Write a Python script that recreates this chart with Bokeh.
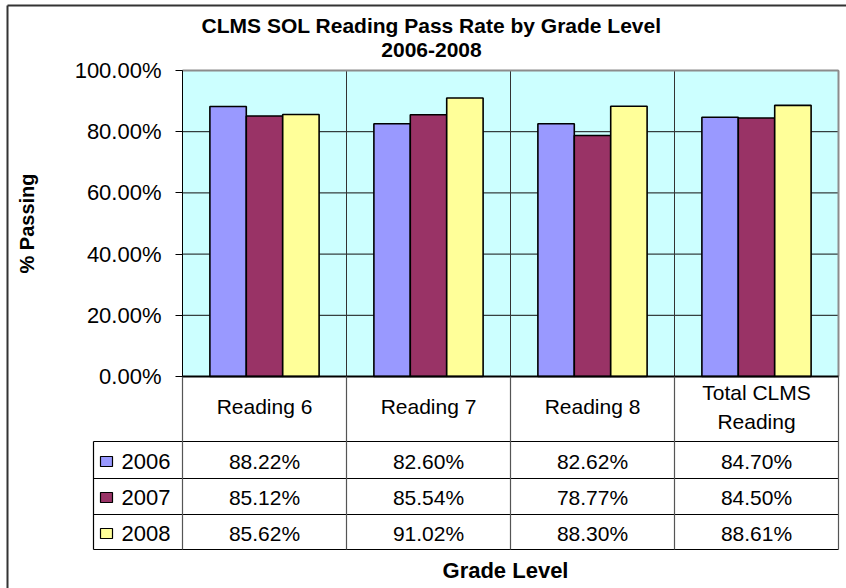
from bokeh.plotting import figure
from bokeh.models import Range1d, FixedTicker
from bokeh.core.properties import value
from bokeh.embed import file_html
from bokeh.resources import INLINE

# ---------------- data ----------------
categories = ["Reading 6", "Reading 7", "Reading 8", "Total CLMS\nReading"]
years = ["2006", "2007", "2008"]
v2006 = [88.22, 82.60, 82.62, 84.70]
v2007 = [85.12, 85.54, 78.77, 84.50]
v2008 = [85.62, 91.02, 88.30, 88.61]
series = [v2006, v2007, v2008]
y_ticks = [0, 20, 40, 60, 80, 100]
y_tick_labels = ["0.00%", "20.00%", "40.00%", "60.00%", "80.00%", "100.00%"]
colors = ["#9999FF", "#993366", "#FFFF99"]
title_lines = ["CLMS SOL Reading Pass Rate by Grade Level", "2006-2008"]
y_title = "% Passing"
x_title = "Grade Level"

# ---------------- layout (canvas pixels) ----------------
W, H = 846, 588
X0, CAT_PX = 182, 164          # canvas x of first category edge, px per category
Y0, PCT_PX = 376, 3.06         # canvas y of 0 %, px per percent
FONT = "Liberation Sans"

p = figure(width=W, height=H,
           x_range=Range1d(-X0 / CAT_PX, (W - X0) / CAT_PX),
           y_range=Range1d(-(H - Y0) / PCT_PX, Y0 / PCT_PX),
           output_backend="svg", toolbar_location=None, min_border=0,
           outline_line_color=None, background_fill_color="white",
           border_fill_color="white")
p.extra_x_ranges = {"px": Range1d(0, W)}
p.extra_y_ranges = {"px": Range1d(H, 0)}
p.xaxis.visible = False
p.xgrid.visible = False
p.ygrid.visible = False

ncat = len(categories)

# plot area background
p.quad(left=[0], right=[ncat], bottom=[y_ticks[0]], top=[y_ticks[-1]],
       fill_color="#CCFFFF", line_color=None)
# horizontal gridlines
p.segment(x0=[0] * len(y_ticks), x1=[ncat] * len(y_ticks), y0=y_ticks, y1=y_ticks,
          line_color="#111111", line_width=1)
# category separators inside plot area
p.segment(x0=list(range(1, ncat)), x1=list(range(1, ncat)),
          y0=[0] * (ncat - 1), y1=[y_ticks[-1]] * (ncat - 1),
          line_color="#333333", line_width=1)
# plot area border (top / right)
p.segment(x0=[0, ncat], x1=[ncat, ncat], y0=[100, 0], y1=[100, 100],
          line_color="#8c8c8c", line_width=2)

# bars
bw = 0.222
for j, (vals, col) in enumerate(zip(series, colors)):
    xs = [i + 0.5 + (j - 1) * bw for i in range(ncat)]
    p.vbar(x=xs, top=vals, bottom=0, width=bw, fill_color=col,
           line_color="black", line_width=1.6)

# x axis line
p.segment(x0=[0], x1=[ncat], y0=[0], y1=[0], line_color="black", line_width=2)

# y axis
ax = p.yaxis[0]
ax.fixed_location = 0
ax.bounds = (0, 100)
ax.ticker = FixedTicker(ticks=y_ticks)
ax.major_label_overrides = dict(zip(y_ticks, y_tick_labels))
ax.minor_tick_line_color = None
ax.major_tick_out = 7
ax.major_tick_in = 0
ax.major_label_standoff = 14
ax.major_label_text_font = FONT
ax.major_label_text_font_size = "22px"
ax.major_label_text_color = "black"
ax.axis_line_color = "black"
ax.major_tick_line_color = "black"
ax.axis_label = y_title
ax.axis_label_text_font = FONT
ax.axis_label_text_font_size = "20px"
ax.axis_label_text_font_style = "bold"
ax.axis_label_text_color = "black"
ax.axis_label_standoff = 34

# ---------------- data table ----------------
TBL_TOP = 376
ROW_EDGES = [441, 478, 514, 549]
LEG_LEFT = 93
PLOT_RIGHT = X0 + ncat * CAT_PX
row_centers = [461, 497, 533]

# horizontal table lines
p.segment(x0=[LEG_LEFT] * len(ROW_EDGES), x1=[PLOT_RIGHT] * len(ROW_EDGES),
          y0=ROW_EDGES, y1=ROW_EDGES, line_color="black", line_width=1.2,
          x_range_name="px", y_range_name="px")
# vertical lines in table (category edges)
p.segment(x0=list(range(ncat + 1)), x1=list(range(ncat + 1)),
          y0=[TBL_TOP] * (ncat + 1), y1=[ROW_EDGES[-1]] * (ncat + 1),
          line_color="#555555", line_width=1.2, y_range_name="px")
# legend column left edge
p.segment(x0=[LEG_LEFT], x1=[LEG_LEFT], y0=[ROW_EDGES[0]], y1=[ROW_EDGES[-1]],
          line_color="black", line_width=1.2, x_range_name="px", y_range_name="px")

# category header labels
hx, hy, ht = [], [], []
for i, c in enumerate(categories):
    lines = c.split("\n")
    n = len(lines)
    for k, ln in enumerate(lines):
        hx.append(i + 0.5)
        hy.append(406 + (k - (n - 1) / 2) * 29)
        ht.append(ln)
p.text(x=hx, y=hy, text=ht, text_font=value(FONT), text_font_size="21px",
       text_align="center", text_baseline="middle", text_color="black",
       y_range_name="px")

# values
vx, vy, vt = [], [], []
for j, vals in enumerate(series):
    for i, v in enumerate(vals):
        vx.append(i + 0.5)
        vy.append(row_centers[j])
        vt.append(f"{v:.2f}%")
p.text(x=vx, y=vy, text=vt, text_font=value(FONT), text_font_size="21px",
       text_align="center", text_baseline="middle", text_color="black",
       y_range_name="px")

# legend keys
p.rect(x=[106] * 3, y=row_centers, width=12, height=10, fill_color=colors,
       line_color="black", line_width=1.2, x_range_name="px", y_range_name="px")
p.text(x=[121] * 3, y=row_centers, text=years, text_font=value(FONT),
       text_font_size="22px", text_align="left", text_baseline="middle",
       text_color="black", x_range_name="px", y_range_name="px")

# titles
p.text(x=[431, 431], y=[25, 49], text=title_lines, text_font=value(FONT),
       text_font_size="21px", text_font_style="bold", text_align="center",
       text_baseline="middle", text_color="black",
       x_range_name="px", y_range_name="px")
p.text(x=[505], y=[570], text=[x_title], text_font=value(FONT),
       text_font_size="22px", text_font_style="bold", text_align="center",
       text_baseline="middle", text_color="black",
       x_range_name="px", y_range_name="px")

# chart area border (left / top)
p.segment(x0=[7, 7], x1=[7, W], y0=[5, 5], y1=[H, 5], line_color="#333333",
          line_width=2, x_range_name="px", y_range_name="px")

open("out.html", "w").write(file_html(p, INLINE))
